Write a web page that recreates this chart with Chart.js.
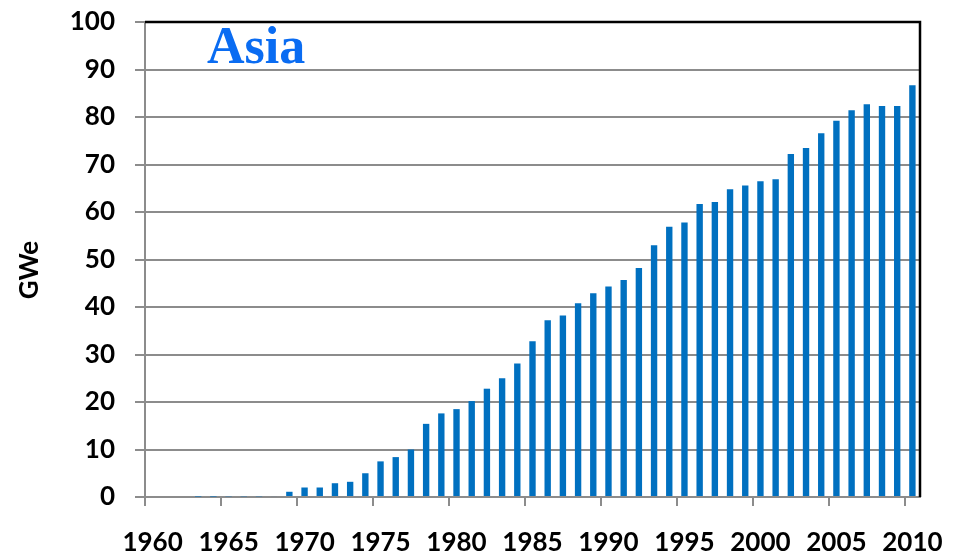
<!DOCTYPE html>
<html>
<head>
<meta charset="utf-8">
<script src="https://cdn.jsdelivr.net/npm/chart.js@4/dist/chart.umd.min.js"></script>
<style>
  html, body { margin: 0; padding: 0; background: #fff; }
  #wrap { width: 955px; height: 555px; }
</style>
</head>
<body>
<div id="wrap"><canvas id="asiaChart" width="955" height="555"></canvas></div>
<script>
// Data (GWe, Asia)
const years = [
    '1960', '1961', '1962', '1963', '1964', '1965', '1966', '1967', '1968', '1969',
    '1970', '1971', '1972', '1973', '1974', '1975', '1976', '1977', '1978', '1979',
    '1980', '1981', '1982', '1983', '1984', '1985', '1986', '1987', '1988', '1989',
    '1990', '1991', '1992', '1993', '1994', '1995', '1996', '1997', '1998', '1999',
    '2000', '2001', '2002', '2003', '2004', '2005', '2006', '2007', '2008', '2009',
    '2010'
];
const capacity = [
    0, 0, 0, 0.1, 0.1, 0.15, 0.15, 0.15, 0.2, 1.1,
    2.0, 2.0, 2.9, 3.2, 5.0, 7.5, 8.4, 10.0, 15.4, 17.6,
    18.5, 20.2, 22.8, 25.0, 28.1, 32.8, 37.2, 38.2, 40.8, 42.9,
    44.3, 45.7, 48.2, 53.0, 56.9, 57.8, 61.7, 62.1, 64.8, 65.6,
    66.5, 66.9, 72.2, 73.5, 76.6, 79.2, 81.4, 82.7, 82.3, 82.3,
    86.7
];
const xTickLabels = ['1960', '1965', '1970', '1975', '1980', '1985', '1990', '1995', '2000', '2005', '2010'];
const yMin = 0;
const yMax = 100;
const yStep = 10;

const gridGray = '#8c8c8c';
const labelFont = { family: 'Lato, "Open Sans", sans-serif', size: 26, weight: 'bold' };

// Title, axis title and black top/right frame
const decorations = {
    id: 'decorations',
    afterDraw(chart) {
        const { ctx, chartArea } = chart;
        ctx.save();
        ctx.strokeStyle = '#000';
        ctx.lineWidth = 2.5;
        ctx.beginPath();
        ctx.moveTo(chartArea.left, chartArea.top);
        ctx.lineTo(chartArea.right, chartArea.top);
        ctx.lineTo(chartArea.right, chartArea.bottom);
        ctx.stroke();

        ctx.fillStyle = '#0a6cf2';
        ctx.font = 'bold 52px "Liberation Serif", "Times New Roman", serif';
        ctx.textAlign = 'left';
        ctx.textBaseline = 'alphabetic';
        ctx.fillText('Asia', 207, 63);

        ctx.translate(30, 270);
        ctx.rotate(-Math.PI / 2);
        ctx.fillStyle = '#000';
        ctx.font = 'bold 26px Lato, "Open Sans", sans-serif';
        ctx.textAlign = 'center';
        ctx.textBaseline = 'middle';
        ctx.fillText('GWe', 0, 0);
        ctx.restore();
    }
};

const ctx = document.getElementById('asiaChart').getContext('2d');
const asiaChart = new Chart(ctx, {
    type: 'bar',
    data: {
        labels: years,
        datasets: [{
            label: 'GWe',
            data: capacity,
            backgroundColor: '#0070c0',
            borderWidth: 0,
            barPercentage: 0.42,
            categoryPercentage: 1.0
        }]
    },
    options: {
        responsive: false,
        animation: false,
        layout: {
            padding: { top: 22, right: 35, left: 0, bottom: 0 }
        },
        plugins: {
            legend: { display: false },
            tooltip: { enabled: false }
        },
        scales: {
            x: {
                offset: true,
                grid: {
                    offset: true,
                    drawOnChartArea: false,
                    tickLength: 9,
                    lineWidth: 2,
                    tickColor: c => (c.index % 5 === 0 ? gridGray : 'rgba(0,0,0,0)')
                },
                border: { display: true, color: gridGray, width: 2 },
                ticks: {
                    autoSkip: false,
                    maxRotation: 0,
                    padding: 21,
                    color: '#000',
                    font: labelFont,
                    callback: function(value, index) {
                        const lbl = this.getLabelForValue(value);
                        return xTickLabels.includes(lbl) ? lbl : '';
                    }
                },
                afterFit(scale) {
                    scale.height = 58;
                    scale.paddingLeft = 0;
                    scale.paddingRight = 0;
                }
            },
            y: {
                min: yMin,
                max: yMax,
                grid: {
                    color: gridGray,
                    lineWidth: 2,
                    tickLength: 10
                },
                border: { display: true, color: gridGray, width: 2 },
                ticks: {
                    stepSize: yStep,
                    padding: 20,
                    color: '#000',
                    font: labelFont
                },
                afterFit(scale) {
                    scale.width = 145;
                    scale.paddingTop = 0;
                    scale.paddingBottom = 0;
                }
            }
        }
    },
    plugins: [decorations]
});
</script>
</body>
</html>
